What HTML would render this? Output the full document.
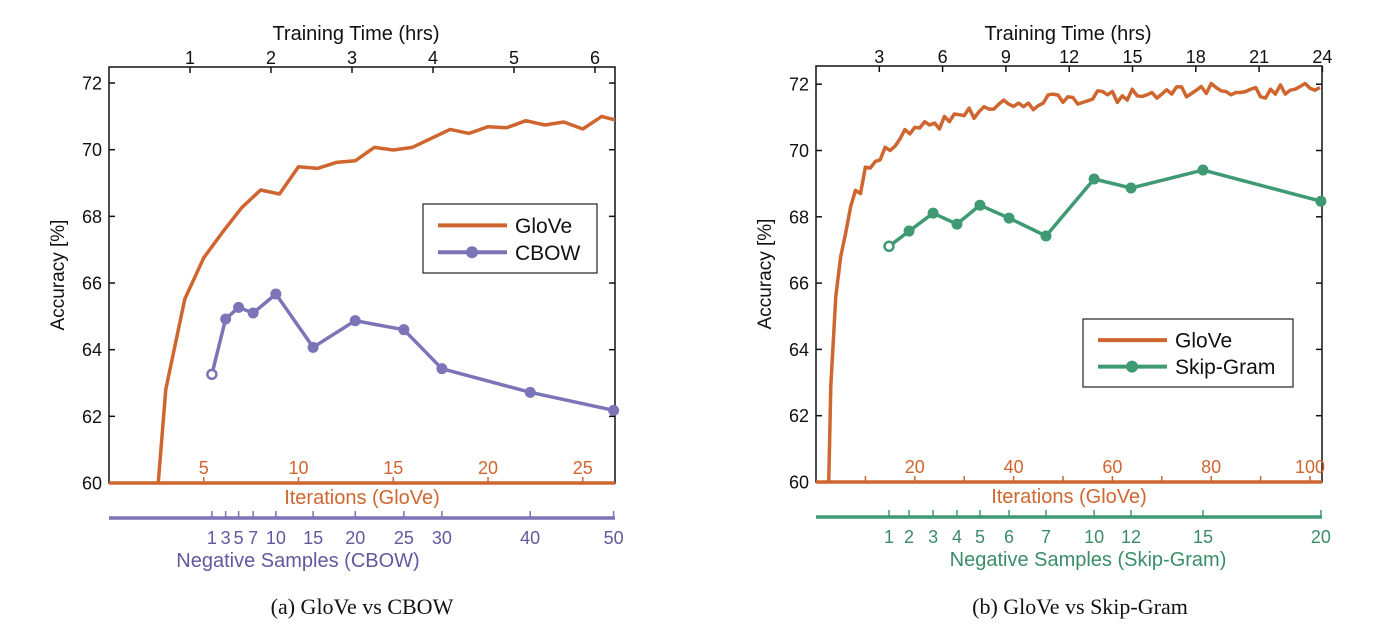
<!DOCTYPE html>
<html><head><meta charset="utf-8">
<style>
body{margin:0;background:#fff;}
svg{display:block;font-family:"Liberation Sans",sans-serif;}
.cap{font-family:"Liberation Serif",serif;font-size:22px;fill:#111;}
</style></head>
<body>
<svg id="fig" width="1378" height="642" viewBox="0 0 1378 642" xmlns="http://www.w3.org/2000/svg">
<text class="cap" x="362" y="614" text-anchor="middle">(a)  GloVe vs CBOW</text>
<text class="cap" x="1080" y="614" text-anchor="middle">(b)  GloVe vs Skip-Gram</text>
</svg>
<script>
// ---- Data: panel (a)
const gloveAIters = [2,3,4,5,6,7,8,9,10,11,12,13,14,15,16,17,18,19,20,21,22,23,24,25,26,27];
const gloveAAcc = [55.8,62.81,65.52,66.76,67.53,68.26,68.79,68.67,69.49,69.44,69.62,69.67,70.07,69.99,70.07,70.34,70.61,70.49,70.69,70.66,70.87,70.74,70.83,70.62,71.0,70.85];
const cbowNeg = [1,3,5,7,10,15,20,25,30,40,50];
const cbowHours = [1.27,1.44,1.60,1.78,2.06,2.52,3.04,3.64,4.11,5.20,6.23];
const cbowAcc = [63.26,64.92,65.27,65.1,65.67,64.07,64.87,64.6,63.43,62.72,62.18];
const hoursTicksA = [1,2,3,4,5,6];
const iterTicksA = [5,10,15,20,25];
// ---- Data: panel (b)
const gloveBAcc = [56,62.9,65.6,66.8,67.5,68.3,68.8,68.7,69.5,69.47,69.67,69.72,70.1,70.0,70.13,70.35,70.63,70.5,70.7,70.68,70.87,70.77,70.83,70.65,71.03,70.87,71.1,71.08,71.05,71.28,70.97,71.17,71.32,71.25,71.25,71.4,71.52,71.4,71.33,71.43,71.32,71.43,71.23,71.35,71.43,71.68,71.7,71.67,71.45,71.62,
71.6,71.4,71.45,71.5,71.55,71.8,71.78,71.68,71.78,71.45,71.65,71.52,71.85,71.65,71.63,71.68,71.75,71.58,71.7,71.83,71.7,71.92,71.92,71.62,71.72,71.82,71.93,71.72,72.02,71.9,71.8,71.78,71.68,71.75,71.75,71.78,71.85,71.9,71.62,71.58,71.85,71.7,71.98,71.7,71.82,71.85,71.93,72.02,71.88,71.82,71.9];
const gloveBFirstIter = 2;
const sgNeg = [1,2,3,4,5,6,7,10,12,15,20];
const sgHours = [3.46,4.41,5.55,6.68,7.77,9.15,10.9,13.18,14.93,18.34,23.93];
const sgAcc = [67.11,67.57,68.11,67.78,68.35,67.96,67.42,69.14,68.87,69.41,68.47];
const hoursTicksB = [3,6,9,12,15,18,21,24];
const iterTicksB = [10,20,30,40,50,60,70,80,90,100];
const iterLabelsB = [20,40,60,80,100];
const yTicks = [60,62,64,66,68,70,72];

const NS="http://www.w3.org/2000/svg";
const svg=document.getElementById('fig');
function mk(tag,attrs,parent){const e=document.createElementNS(NS,tag);for(const k in attrs)e.setAttribute(k,attrs[k]);(parent||svg).appendChild(e);return e;}

const ORANGE="#cf6630", PURPLE="#7b74b6", GREEN="#3f9a74";

function panel(cfg){
  const {L,R,T,B,iterScale,hourScale,id}=cfg;
  const y=v=>B-(v-60)*cfg.yPer;
  const ix=i=>L+i*iterScale;
  const hx=h=>L+h*hourScale;
  const g=mk('g',{});
  
  
  const defs=mk('defs',{},g);
  const cp=mk('clipPath',{id:'clip-'+id},defs);
  mk('rect',{x:L,y:T,width:R-L,height:B-T},cp);
  const box=mk('rect',{x:L,y:T,width:R-L,height:B-T,fill:'none',stroke:'#111','stroke-width':1.5},g);
  
  
  yTicks.forEach(v=>{
    mk('line',{x1:L,x2:L+6,y1:y(v),y2:y(v),stroke:'#111','stroke-width':1.5},g);
    mk('line',{x1:R-6,x2:R,y1:y(v),y2:y(v),stroke:'#111','stroke-width':1.5},g);
    const t=mk('text',{x:L-7,y:y(v)+6.5,'text-anchor':'end','font-size':18,fill:'#111'},g);
    t.textContent=v;
    
    
  });
  const yt=mk('text',{x:0,y:0,'text-anchor':'middle','font-size':19,fill:'#111',transform:`translate(${L-45},${(T+B)/2}) rotate(-90)`},g);
  yt.textContent='Accuracy [%]';
  
  
  cfg.hoursTicks.forEach(h=>{
    mk('line',{x1:hx(h),x2:hx(h),y1:T,y2:T+6,stroke:'#111','stroke-width':1.5},g);
    const t=mk('text',{x:hx(h),y:T-3,'text-anchor':'middle','font-size':18,fill:'#111'},g);
    t.textContent=h;
    
    
  });
  const tt=mk('text',{x:cfg.topTitleX,y:40,'text-anchor':'middle','font-size':20,fill:'#111'},g);
  tt.textContent='Training Time (hrs)';
  
  
  cfg.iterTicks.forEach(i=>{
    mk('line',{x1:ix(i),x2:ix(i),y1:B,y2:B-6,stroke:ORANGE,'stroke-width':1.5},g);
  });
  cfg.iterLabels.forEach(i=>{
    const t=mk('text',{x:ix(i),y:B-9,'text-anchor':'middle','font-size':18,fill:ORANGE},g);
    t.textContent=i;
    
    
  });
  const it=mk('text',{x:(L+R)/2,y:B+21,'text-anchor':'middle','font-size':20,fill:ORANGE},g);
  it.textContent='Iterations (GloVe)';
  
  
  const pts=cfg.gloveIters.map((i,k)=>ix(i).toFixed(1)+','+y(cfg.gloveAcc[k]).toFixed(1)).join(' ');
  const gl=mk('polyline',{points:pts,fill:'none',stroke:ORANGE,'stroke-width':3.5,'stroke-linejoin':'round','clip-path':`url(#clip-${id})`},g);
  
  
  mk('line',{x1:L,x2:R,y1:B,y2:B,stroke:ORANGE,'stroke-width':3.5},g);
  const C=cfg.color, ny=B+35;
  const nl=mk('line',{x1:L,x2:R,y1:ny,y2:ny,stroke:C,'stroke-width':3.5},g);
  
  
  cfg.negHours.forEach((h,k)=>{
    mk('line',{x1:hx(h),x2:hx(h),y1:ny,y2:ny-7,stroke:C,'stroke-width':1.5},g);
    const t=mk('text',{x:hx(h),y:ny+26,'text-anchor':'middle','font-size':18,fill:cfg.textColor},g);
    t.textContent=cfg.negVals[k];
    
    
  });
  const nt=mk('text',{x:cfg.negTitleX,y:ny+49,'text-anchor':'middle','font-size':20,fill:cfg.textColor},g);
  nt.textContent=cfg.negTitle;
  
  
  const sp=cfg.negHours.map((h,k)=>hx(h).toFixed(1)+','+y(cfg.negAcc[k]).toFixed(1)).join(' ');
  const sl=mk('polyline',{points:sp,fill:'none',stroke:C,'stroke-width':3.5,'stroke-linejoin':'round'},g);
  
  
  cfg.negHours.forEach((h,k)=>{
    const c=k===0?mk('circle',{cx:hx(h),cy:y(cfg.negAcc[k]),r:4.5,fill:'#fff',stroke:C,'stroke-width':2.5},g)
                 :mk('circle',{cx:hx(h),cy:y(cfg.negAcc[k]),r:5.5,fill:C},g);
    
    
  });
  const lg=cfg.legend;
  const lr=mk('rect',{x:lg.x,y:lg.y,width:lg.w,height:lg.h,fill:'#fff',stroke:'#222','stroke-width':1.2},g);
  
  
  const y1=lg.y+lg.h*0.31, y2=lg.y+lg.h*0.7;
  mk('line',{x1:lg.x+15,x2:lg.x+84,y1:y1,y2:y1,stroke:ORANGE,'stroke-width':4},g);
  const l1=mk('text',{x:lg.x+92,y:y1+7.5,'font-size':21,fill:'#111'},g);
  l1.textContent='GloVe';
  
  
  mk('line',{x1:lg.x+15,x2:lg.x+84,y1:y2,y2:y2,stroke:C,'stroke-width':4},g);
  mk('circle',{cx:lg.x+49,cy:y2,r:6,fill:C},g);
  const l2=mk('text',{x:lg.x+92,y:y2+7.5,'font-size':21,fill:'#111'},g);
  l2.textContent=cfg.seriesLabel;
  
  
}

panel({id:'a',L:109,R:615,T:67,B:483,yPer:33.33,iterScale:18.95,hourScale:81,
  hoursTicks:hoursTicksA,iterTicks:iterTicksA,iterLabels:iterTicksA,topTitleX:356,
  gloveIters:gloveAIters,gloveAcc:gloveAAcc,
  negHours:cbowHours,negVals:cbowNeg,negAcc:cbowAcc,color:PURPLE,textColor:'#5f5a9e',
  negTitle:'Negative Samples (CBOW)',negTitleX:298,seriesName:'cbow',seriesLabel:'CBOW',
  legend:{x:423,y:204,w:174,h:69}});

const gloveBIters=gloveBAcc.map((v,k)=>gloveBFirstIter+k);
panel({id:'b',L:816,R:1322,T:66,B:482,yPer:33.15,iterScale:4.94,hourScale:21.1,
  hoursTicks:hoursTicksB,iterTicks:iterTicksB,iterLabels:iterLabelsB,topTitleX:1068,
  gloveIters:gloveBIters,gloveAcc:gloveBAcc,
  negHours:sgHours,negVals:sgNeg,negAcc:sgAcc,color:GREEN,textColor:'#3b8d68',
  negTitle:'Negative Samples (Skip-Gram)',negTitleX:1088,seriesName:'skip-gram',seriesLabel:'Skip-Gram',
  legend:{x:1083,y:319,w:210,h:68}});
</script>
</body></html>
